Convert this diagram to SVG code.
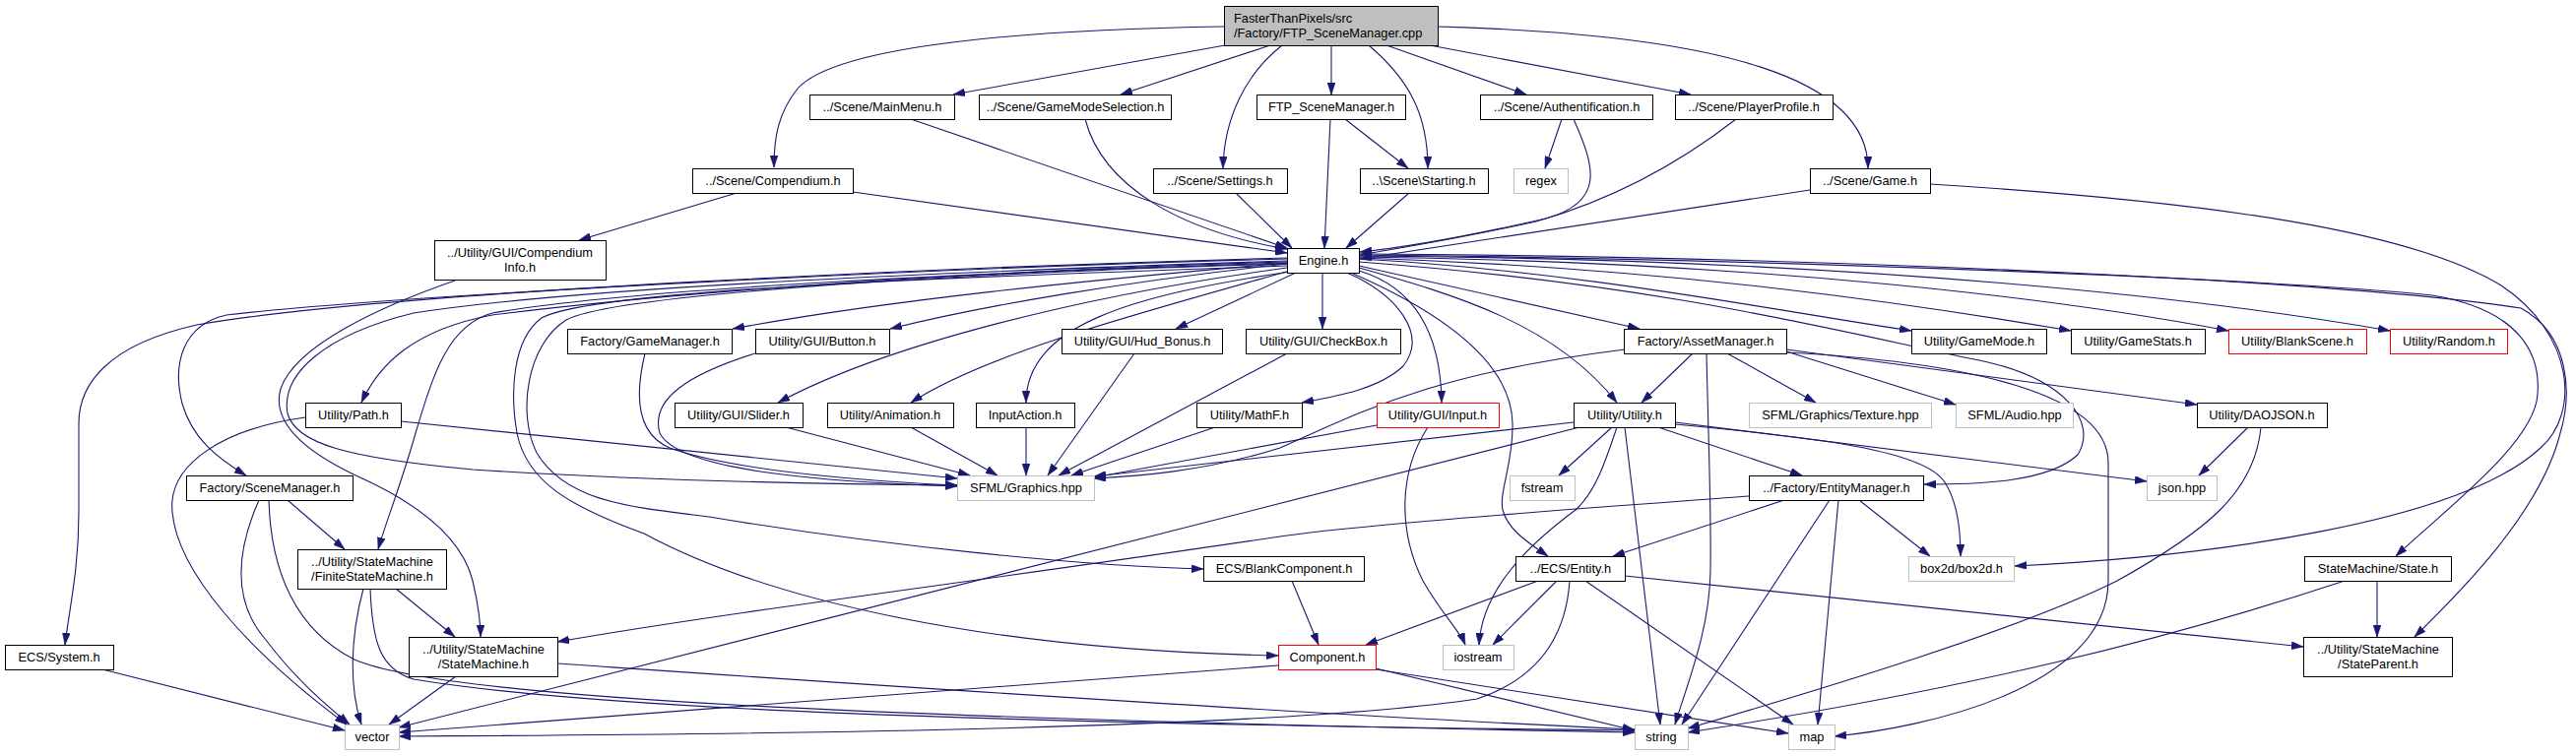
<svg xmlns="http://www.w3.org/2000/svg" width="2616" height="768" viewBox="0 0 2616 768">
<style>
.nd rect{fill:#ffffff;stroke:#000000;stroke-width:1}
.nd.gy rect{stroke:#bfbfbf}
.nd.rd rect{stroke:#ff0000}
.nd.root rect{fill:#bfbfbf}
text{font-family:"Liberation Sans",Arial,Helvetica,sans-serif;font-size:12.8px;fill:#000000;text-anchor:middle}
.nd.root text{text-anchor:start}
#edges path{fill:none;stroke:#191970;stroke-width:1.1;marker-end:url(#ah)}
</style>
<defs>
<marker id="ah" viewBox="0 0 12 8" refX="12" refY="4" markerWidth="12" markerHeight="8" markerUnits="userSpaceOnUse" orient="auto">
<path d="M0,0 L12,4 L0,8 z" fill="#191970" stroke="#191970" stroke-width="0.5"/>
</marker>
</defs>
<rect width="2616" height="768" fill="#ffffff"/>
<g id="edges">
<path d="M1243,27 C1050,30 850,45 810,90 C790,115 786,140 786,170"/>
<path d="M1244,46 L968,96"/>
<path d="M1290,46 L1138,96"/>
<path d="M1302,46 C1265,75 1243,120 1242,171"/>
<path d="M1352,46 L1352,96"/>
<path d="M1390,46 C1430,80 1450,115 1450,171"/>
<path d="M1408,46 L1550,96"/>
<path d="M1452,46 L1717,96"/>
<path d="M1460,27 C1750,35 1897,80 1897,171"/>
<path d="M925,121 L1307,252"/>
<path d="M1102,121 C1120,190 1200,235 1307,253"/>
<path d="M1255,196 L1312,252"/>
<path d="M866,195 L1307,257"/>
<path d="M748,196 L588,244"/>
<path d="M1351,121 L1345,252"/>
<path d="M1366,121 L1430,171"/>
<path d="M1431,196 L1367,252"/>
<path d="M1586,121 L1569,171"/>
<path d="M1598,121 C1620,170 1630,205 1570,222 C1490,240 1420,252 1381,256"/>
<path d="M1763,121 C1700,170 1630,205 1560,225 C1470,245 1420,252 1381,259"/>
<path d="M1838,193 L1381,263"/>
<path d="M1960,187 C2250,205 2450,235 2540,290 C2615,340 2620,420 2580,455 C2500,530 2250,565 2046,575"/>
<path d="M1307,262 C1000,270 400,295 200,330 C110,350 80,390 80,430 L80,520 C80,580 70,620 66,655"/>
<path d="M1307,263 C950,272 400,300 230,320 C185,330 175,370 185,410 C195,445 220,465 250,483"/>
<path d="M1307,266 C1000,275 700,295 500,320 C420,335 385,370 367,409"/>
<path d="M1307,267 C1000,277 650,292 500,318 C455,330 440,380 422,440 C408,490 392,530 384,558"/>
<path d="M462,285 C390,310 300,350 285,395 C275,430 310,460 370,487 C430,515 470,550 480,590 C487,620 488,635 488,647"/>
<path d="M1307,265 C1000,275 600,290 420,318 C330,340 285,380 292,420 C300,450 350,465 480,477 C650,488 850,492 972,493"/>
<path d="M1307,267 C1100,285 900,305 744,334"/>
<path d="M1307,268 C1150,285 1000,310 904,334"/>
<path d="M1307,272 C1100,300 900,350 790,409"/>
<path d="M1310,275 C1150,320 1000,360 925,409"/>
<path d="M1310,276 C1150,300 1042,330 1042,409"/>
<path d="M1316,277 L1194,334"/>
<path d="M1343,277 L1343,334"/>
<path d="M1368,277 C1420,300 1450,340 1425,372 C1400,395 1360,402 1322,409"/>
<path d="M1380,275 C1430,290 1463,330 1464,409"/>
<path d="M1380,272 C1480,300 1580,330 1642,409"/>
<path d="M1380,270 L1665,334"/>
<path d="M1372,277 C1470,320 1535,370 1536,430 C1537,470 1522,500 1526,518 C1532,540 1555,553 1572,565"/>
<path d="M1307,268 C950,278 620,300 575,325 C535,350 525,420 545,460 C575,510 640,515 720,525 C900,555 1100,575 1222,578"/>
<path d="M1307,270 C950,282 600,295 550,323 C520,345 518,400 525,440 C535,490 580,515 654,542 C780,610 1000,660 1298,666"/>
<path d="M1380,266 C1700,290 1880,340 2010,366 C2100,385 2130,430 2110,462 C2080,490 2010,492 1954,492"/>
<path d="M1380,263 C1600,275 1800,315 1941,336"/>
<path d="M1380,262 C1700,272 1950,310 2103,336"/>
<path d="M1380,261 C1800,266 2100,305 2263,336"/>
<path d="M1380,260 C1900,263 2250,305 2427,336"/>
<path d="M1380,259 C1800,263 2300,283 2470,300 C2560,315 2580,360 2577,400 C2575,450 2480,520 2433,565"/>
<path d="M1380,258 C1900,261 2400,288 2560,313 C2610,340 2612,400 2600,440 C2580,520 2500,600 2452,647"/>
<path d="M1719,359 L1667,409"/>
<path d="M1754,359 L1844,409"/>
<path d="M1814,357 L1986,411"/>
<path d="M1814,355 L2231,411"/>
<path d="M1733,359 C1735,450 1738,520 1737,580 C1736,640 1715,690 1701,736"/>
<path d="M1650,355 C1450,380 1380,420 1300,455 C1220,480 1150,484 1111,486"/>
<path d="M1814,358 C2000,368 2141,400 2141,470 L2141,590 C2141,700 1950,740 1863,748"/>
<path d="M1598,429 L1111,484"/>
<path d="M1637,434 L1583,483"/>
<path d="M1642,434 C1630,470 1620,500 1600,518 C1550,555 1505,600 1502,655"/>
<path d="M1650,434 L1686,736"/>
<path d="M1604,434 L405,739"/>
<path d="M1684,434 L1830,483"/>
<path d="M1701,429 L2180,489"/>
<path d="M1701,431 C1850,445 1955,458 1975,490 C1988,510 1991,540 1991,565"/>
<path d="M1398,432 L1111,485"/>
<path d="M1450,434 C1420,480 1420,540 1445,590 C1465,625 1482,640 1488,655"/>
<path d="M798,434 L985,483"/>
<path d="M925,434 L1013,483"/>
<path d="M1042,434 L1042,483"/>
<path d="M1152,359 L1064,483"/>
<path d="M1307,359 L1075,483"/>
<path d="M1234,434 L1088,483"/>
<path d="M407,428 L972,486"/>
<path d="M655,359 C645,400 645,440 680,455 C750,480 900,490 972,493"/>
<path d="M767,359 C700,380 660,405 670,440 C690,480 850,490 972,494"/>
<path d="M310,424 C230,435 170,470 175,520 C180,580 250,660 352,736"/>
<path d="M104,680 L350,742"/>
<path d="M292,508 L350,558"/>
<path d="M263,508 C240,560 235,610 270,650 C300,690 330,715 355,736"/>
<path d="M273,508 C275,580 300,640 360,670 C450,710 900,730 1660,744"/>
<path d="M402,598 L462,647"/>
<path d="M369,598 C355,650 355,700 367,736"/>
<path d="M376,598 C378,650 385,680 420,690 C600,720 1000,735 1660,742"/>
<path d="M463,687 L395,736"/>
<path d="M566,674 C800,690 1300,725 1660,741"/>
<path d="M1776,504 C1700,510 1400,530 1300,545 C1000,590 750,620 566,652"/>
<path d="M1812,508 L1638,565"/>
<path d="M1858,508 L1708,736"/>
<path d="M1867,508 L1846,736"/>
<path d="M1888,508 L1960,565"/>
<path d="M1562,590 L1387,655"/>
<path d="M1581,590 L1516,655"/>
<path d="M1594,590 C1590,650 1560,690 1500,710 C1300,740 800,746 405,748"/>
<path d="M1610,590 L1821,736"/>
<path d="M1650,585 L2339,657"/>
<path d="M1312,590 L1339,655"/>
<path d="M1298,676 L405,744"/>
<path d="M1397,679 L1660,742"/>
<path d="M1397,680 L1816,745"/>
<path d="M2283,434 L2233,483"/>
<path d="M2296,434 C2290,500 2240,540 2150,590 C2050,640 1850,700 1714,740"/>
<path d="M2414,590 L2414,647"/>
<path d="M2381,590 C2200,650 2000,700 1714,744"/>
</g>
<g id="n_root" class="nd root"><rect x="1243.5" y="6.5" width="217" height="40"/><text x="1253" y="23">FasterThanPixels/src</text><text x="1253" y="38">/Factory/FTP_SceneManager.cpp</text></g>
<g id="n_mainmenu" class="nd"><rect x="822.5" y="96.5" width="147" height="25"/><text x="896" y="113">../Scene/MainMenu.h</text></g>
<g id="n_gms" class="nd"><rect x="994.5" y="96.5" width="195" height="25"/><text x="1092" y="113">../Scene/GameModeSelection.h</text></g>
<g id="n_ftph" class="nd"><rect x="1276.5" y="96.5" width="151" height="25"/><text x="1352" y="113">FTP_SceneManager.h</text></g>
<g id="n_auth" class="nd"><rect x="1503.5" y="96.5" width="175" height="25"/><text x="1591" y="113">../Scene/Authentification.h</text></g>
<g id="n_profile" class="nd"><rect x="1701.5" y="96.5" width="160" height="25"/><text x="1781" y="113">../Scene/PlayerProfile.h</text></g>
<g id="n_compendium" class="nd"><rect x="703.5" y="171.5" width="163" height="25"/><text x="785" y="188">../Scene/Compendium.h</text></g>
<g id="n_settings" class="nd"><rect x="1171.5" y="171.5" width="136" height="25"/><text x="1239" y="188">../Scene/Settings.h</text></g>
<g id="n_starting" class="nd"><rect x="1381.5" y="171.5" width="130" height="25"/><text x="1446" y="188">..\Scene\Starting.h</text></g>
<g id="n_regex" class="nd gy"><rect x="1537.5" y="171.5" width="55" height="25"/><text x="1565" y="188">regex</text></g>
<g id="n_game" class="nd"><rect x="1838.5" y="171.5" width="122" height="25"/><text x="1899" y="188">../Scene/Game.h</text></g>
<g id="n_engine" class="nd"><rect x="1307.5" y="252.5" width="73" height="25"/><text x="1344" y="269">Engine.h</text></g>
<g id="n_compinfo" class="nd"><rect x="441.5" y="244.5" width="174" height="40"/><text x="528" y="261">../Utility/GUI/Compendium</text><text x="528" y="276">Info.h</text></g>
<g id="n_gamemanager" class="nd"><rect x="576.5" y="334.5" width="167" height="25"/><text x="660" y="351">Factory/GameManager.h</text></g>
<g id="n_button" class="nd"><rect x="767.5" y="334.5" width="136" height="25"/><text x="835" y="351">Utility/GUI/Button.h</text></g>
<g id="n_hud" class="nd"><rect x="1078.5" y="334.5" width="163" height="25"/><text x="1160" y="351">Utility/GUI/Hud_Bonus.h</text></g>
<g id="n_checkbox" class="nd"><rect x="1265.5" y="334.5" width="157" height="25"/><text x="1344" y="351">Utility/GUI/CheckBox.h</text></g>
<g id="n_assetmanager" class="nd"><rect x="1649.5" y="334.5" width="165" height="25"/><text x="1732" y="351">Factory/AssetManager.h</text></g>
<g id="n_gamemode" class="nd"><rect x="1941.5" y="334.5" width="137" height="25"/><text x="2010" y="351">Utility/GameMode.h</text></g>
<g id="n_gamestats" class="nd"><rect x="2103.5" y="334.5" width="136" height="25"/><text x="2171" y="351">Utility/GameStats.h</text></g>
<g id="n_blankscene" class="nd rd"><rect x="2263.5" y="334.5" width="140" height="25"/><text x="2333" y="351">Utility/BlankScene.h</text></g>
<g id="n_random" class="nd rd"><rect x="2427.5" y="334.5" width="119" height="25"/><text x="2487" y="351">Utility/Random.h</text></g>
<g id="n_path" class="nd"><rect x="310.5" y="409.5" width="97" height="25"/><text x="359" y="426">Utility/Path.h</text></g>
<g id="n_slider" class="nd"><rect x="685.5" y="409.5" width="130" height="25"/><text x="750" y="426">Utility/GUI/Slider.h</text></g>
<g id="n_animation" class="nd"><rect x="840.5" y="409.5" width="128" height="25"/><text x="904" y="426">Utility/Animation.h</text></g>
<g id="n_inputaction" class="nd"><rect x="991.5" y="409.5" width="100" height="25"/><text x="1041" y="426">InputAction.h</text></g>
<g id="n_mathf" class="nd"><rect x="1215.5" y="409.5" width="107" height="25"/><text x="1269" y="426">Utility/MathF.h</text></g>
<g id="n_input" class="nd rd"><rect x="1398.5" y="409.5" width="124" height="25"/><text x="1460" y="426">Utility/GUI/Input.h</text></g>
<g id="n_utility" class="nd"><rect x="1598.5" y="409.5" width="103" height="25"/><text x="1650" y="426">Utility/Utility.h</text></g>
<g id="n_texture" class="nd gy"><rect x="1776.5" y="409.5" width="185" height="25"/><text x="1869" y="426">SFML/Graphics/Texture.hpp</text></g>
<g id="n_audio" class="nd gy"><rect x="1986.5" y="409.5" width="119" height="25"/><text x="2046" y="426">SFML/Audio.hpp</text></g>
<g id="n_daojson" class="nd"><rect x="2231.5" y="409.5" width="132" height="25"/><text x="2297" y="426">Utility/DAOJSON.h</text></g>
<g id="n_scenemanager" class="nd"><rect x="189.5" y="483.5" width="169" height="25"/><text x="274" y="500">Factory/SceneManager.h</text></g>
<g id="n_graphics" class="nd gy"><rect x="972.5" y="483.5" width="139" height="25"/><text x="1042" y="500">SFML/Graphics.hpp</text></g>
<g id="n_fstream" class="nd gy"><rect x="1533.5" y="483.5" width="66" height="25"/><text x="1566" y="500">fstream</text></g>
<g id="n_entitymanager" class="nd"><rect x="1776.5" y="483.5" width="177" height="25"/><text x="1865" y="500">../Factory/EntityManager.h</text></g>
<g id="n_json" class="nd gy"><rect x="2180.5" y="483.5" width="71" height="25"/><text x="2216" y="500">json.hpp</text></g>
<g id="n_fsm" class="nd"><rect x="302.5" y="558.5" width="151" height="40"/><text x="378" y="575">../Utility/StateMachine</text><text x="378" y="590">/FiniteStateMachine.h</text></g>
<g id="n_blankcomponent" class="nd"><rect x="1222.5" y="565.5" width="163" height="25"/><text x="1304" y="582">ECS/BlankComponent.h</text></g>
<g id="n_entity" class="nd"><rect x="1539.5" y="565.5" width="111" height="25"/><text x="1595" y="582">../ECS/Entity.h</text></g>
<g id="n_box2d" class="nd gy"><rect x="1938.5" y="565.5" width="107" height="25"/><text x="1992" y="582">box2d/box2d.h</text></g>
<g id="n_state" class="nd"><rect x="2340.5" y="565.5" width="149" height="25"/><text x="2415" y="582">StateMachine/State.h</text></g>
<g id="n_statemachine" class="nd"><rect x="415.5" y="647.5" width="151" height="40"/><text x="491" y="664">../Utility/StateMachine</text><text x="491" y="679">/StateMachine.h</text></g>
<g id="n_stateparent" class="nd"><rect x="2339.5" y="647.5" width="151" height="40"/><text x="2415" y="664">../Utility/StateMachine</text><text x="2415" y="679">/StateParent.h</text></g>
<g id="n_system" class="nd"><rect x="5.5" y="655.5" width="110" height="25"/><text x="60" y="672">ECS/System.h</text></g>
<g id="n_component" class="nd rd"><rect x="1298.5" y="655.5" width="99" height="25"/><text x="1348" y="672">Component.h</text></g>
<g id="n_iostream" class="nd gy"><rect x="1465.5" y="655.5" width="72" height="25"/><text x="1501" y="672">iostream</text></g>
<g id="n_vector" class="nd gy"><rect x="350.5" y="736.5" width="55" height="25"/><text x="378" y="753">vector</text></g>
<g id="n_string" class="nd gy"><rect x="1660.5" y="736.5" width="54" height="25"/><text x="1687" y="753">string</text></g>
<g id="n_map" class="nd gy"><rect x="1816.5" y="736.5" width="47" height="25"/><text x="1840" y="753">map</text></g>
</svg>
